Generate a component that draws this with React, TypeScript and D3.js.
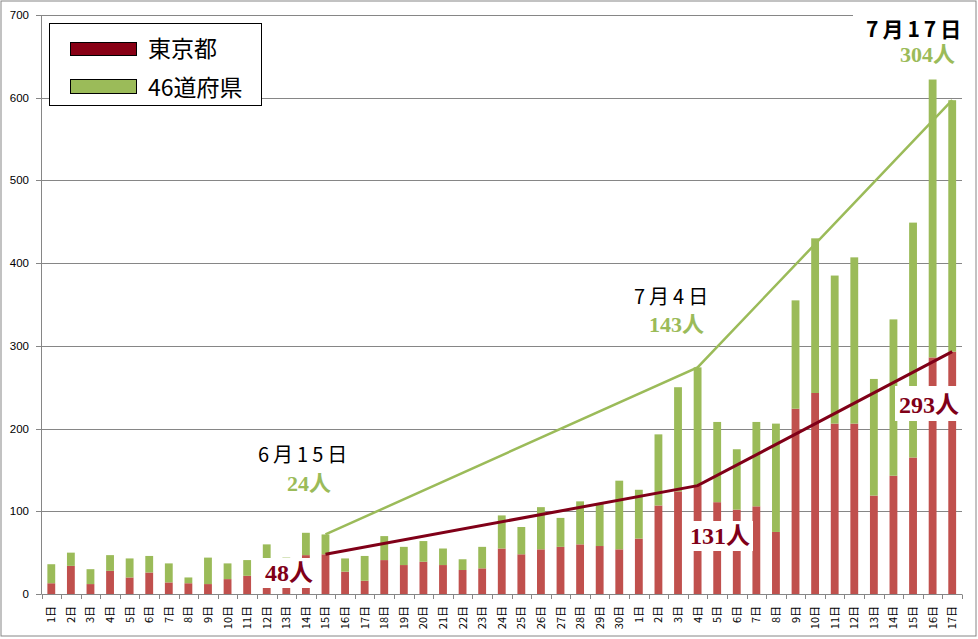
import * as d3 from "d3";

// 6/1 - 7/17 daily new cases
const days = [
  ...d3.range(1, 31).map((d) => `${d}日`),
  ...d3.range(1, 18).map((d) => `${d}日`),
];
const tokyo = [
  13, 34, 12, 28, 20, 26, 14, 13, 12, 18, 22, 25, 24, 47, 48, 27, 16, 41, 35, 39,
  35, 29, 31, 55, 48, 54, 57, 60, 58, 54, 67, 107, 124, 131, 111, 102, 106, 75,
  224, 243, 206, 206, 119, 143, 165, 286, 293,
];
const others = [
  23, 16, 18, 19, 23, 20, 23, 7, 32, 19, 19, 35, 20, 27, 24, 16, 30, 29, 22, 25,
  20, 13, 26, 40, 33, 51, 35, 52, 52, 83, 59, 86, 126, 143, 97, 73, 102, 131, 131,
  187, 179, 201, 141, 189, 284, 336, 304,
];
const yTicks = [0, 100, 200, 300, 400, 500, 600, 700];
// June 15, July 4, July 17
const markIdx = [14, 33, 46];
const markDates = ["6月15日", "7月4日", "7月17日"];

const W = 978;
const H = 639;
const RED = "#c0504d";
const GREEN = "#9bbb59";
const DARK = "#800018";
const GRID = "#868686";

const App = () => {
  const x = d3
    .scaleBand<number>()
    .domain(d3.range(days.length))
    .range([41.5, 962])
    .paddingInner(0.6)
    .paddingOuter(0.3);
  const y = d3.scaleLinear().domain([0, 700]).range([594, 15]);
  const step = x.step();
  const cx = (i: number) => (x(i) as number) + x.bandwidth() / 2;

  const line = d3
    .line<number>()
    .x((i) => cx(i))
    .y((i) => y(tokyo[i]));
  const lineTotal = d3
    .line<number>()
    .x((i) => cx(i))
    .y((i) => y(tokyo[i] + others[i]));

  const jp = "'Noto Sans CJK JP', sans-serif";
  const num = "'Liberation Serif', 'Noto Sans CJK JP', serif";

  return (
    <>
      <style>{`body{margin:0}`}</style>
      <svg width={W} height={H} style={{ display: "block" }}>
        <rect x={1} y={1} width={975} height={635} fill="#fff" stroke={GRID} />
        {/* grid + y axis */}
        {yTicks.map((t) => (
          <g key={t}>
            {t > 0 && (
              <line x1={41.5} x2={962} y1={Math.round(y(t)) + 0.5} y2={Math.round(y(t)) + 0.5} stroke={GRID} />
            )}
            <line x1={36} x2={41.5} y1={Math.round(y(t)) + 0.5} y2={Math.round(y(t)) + 0.5} stroke={GRID} />
            <text
              x={29}
              y={y(t)}
              dy="0.35em"
              textAnchor="end"
              fontSize={11.5}
              fontFamily="'Liberation Sans', Arial, sans-serif"
            >
              {t}
            </text>
          </g>
        ))}
        <line x1={41.5} x2={41.5} y1={15} y2={594} stroke={GRID} />
        {/* bars */}
        {days.map((d, i) => (
          <g key={i}>
            <rect x={x(i)} width={x.bandwidth()} y={y(tokyo[i])} height={y(0) - y(tokyo[i])} fill={RED} />
            <rect
              x={x(i)}
              width={x.bandwidth()}
              y={y(tokyo[i] + others[i])}
              height={y(tokyo[i]) - y(tokyo[i] + others[i])}
              fill={GREEN}
            />
          </g>
        ))}
        {/* x axis */}
        <line x1={41.5} x2={962} y1={594.5} y2={594.5} stroke={GRID} />
        {d3.range(days.length + 1).map((i) => {
          const px = Math.round(41.5 + i * step) + 0.5;
          return <line key={i} x1={px} x2={px} y1={594.5} y2={599} stroke={GRID} />;
        })}
        {days.map((d, i) => (
          <text
            key={i}
            transform={`translate(${cx(i) + 4},606) rotate(-90)`}
            textAnchor="end"
            fontSize={11}
            fontFamily={jp}
          >
            {d}
          </text>
        ))}
        {/* trend lines */}
        <path d={lineTotal(markIdx) ?? ""} fill="none" stroke={GREEN} strokeWidth={2.5} />
        <path d={line(markIdx) ?? ""} fill="none" stroke={DARK} strokeWidth={3} />

        {/* annotations */}
        <text x={258} y={462} fontSize={20} letterSpacing={4} fontFamily={jp}>
          {markDates[0]}
        </text>
        <text x={287} y={491} fontSize={22} fontWeight="bold" fill={GREEN} fontFamily={num}>
          {others[markIdx[0]]}人
        </text>
        <rect x={260} y={558} width={53} height={30} fill="#fff" />
        <text x={265} y={581} fontSize={24} fontWeight="bold" fill={DARK} fontFamily={num}>
          {tokyo[markIdx[0]]}人
        </text>

        <text x={634} y={304} fontSize={20} letterSpacing={4} fontFamily={jp}>
          {markDates[1]}
        </text>
        <text x={649} y={332} fontSize={22} fontWeight="bold" fill={GREEN} fontFamily={num}>
          {others[markIdx[1]]}人
        </text>
        <rect x={688} y={521} width={65} height={30} fill="#fff" />
        <text x={690} y={544} fontSize={24} fontWeight="bold" fill={DARK} fontFamily={num}>
          {tokyo[markIdx[1]]}人
        </text>

        <rect x={853} y={6} width={110} height={64} fill="#fff" />
        <text x={866} y={37} fontSize={21} fontWeight="bold" letterSpacing={4} fontFamily={jp}>
          {markDates[2]}
        </text>
        <text x={900} y={62} fontSize={22} fontWeight="bold" fill={GREEN} fontFamily={num}>
          {others[markIdx[2]]}人
        </text>
        <rect x={895} y={386} width={68} height={35} fill="#fff" />
        <text x={899} y={413} fontSize={24} fontWeight="bold" fill={DARK} fontFamily={num}>
          {tokyo[markIdx[2]]}人
        </text>

        {/* legend */}
        <rect x={49.5} y={23.5} width={212} height={82} fill="#fff" stroke="#000" />
        <rect x={70.5} y={42.5} width={66} height={13} fill="#880015" stroke="#000" />
        <rect x={70.5} y={79.5} width={66} height={14} fill={GREEN} stroke="#000" />
        <text x={148} y={57} fontSize={23} fontFamily={jp}>東京都</text>
        <text x={148} y={96} fontSize={23} fontFamily={jp}>46道府県</text>
      </svg>
    </>
  );
};

export default App;
